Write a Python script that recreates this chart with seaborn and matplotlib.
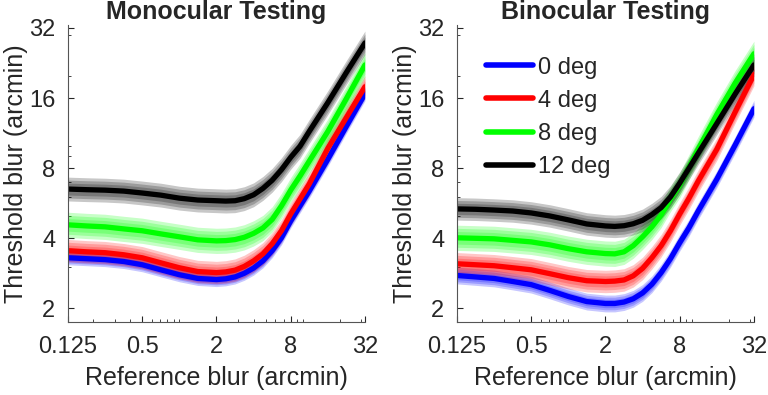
import numpy as np
import pandas as pd
import seaborn as sns
import matplotlib
matplotlib.use('Agg')
import matplotlib.pyplot as plt
from matplotlib.ticker import FixedLocator, LogLocator, NullFormatter

# reference blur (arcmin): half-octave steps, quarter-octave around the knee
ref_blur = [0.125, 0.177, 0.25, 0.354, 0.5, 0.707, 1, 1.41, 2, 2.38, 2.83, 3.36,
            4, 4.76, 5.66, 6.73, 8, 9.51, 11.3, 16, 22.6, 32]

# monocular thresholds (arcmin)
mono_0 = [3.30, 3.27, 3.24, 3.18, 3.08, 2.93, 2.79, 2.69, 2.66, 2.68, 2.73, 2.83,
          2.98, 3.20, 3.54, 4.02, 4.75, 5.51, 6.38, 8.74, 12.1, 16.7]
mono_4 = [3.54, 3.50, 3.47, 3.40, 3.30, 3.14, 2.99, 2.88, 2.85, 2.87, 2.92, 3.03,
          3.20, 3.43, 3.79, 4.31, 5.09, 5.90, 6.84, 9.74, 13.2, 17.9]
mono_8 = [4.57, 4.52, 4.48, 4.39, 4.31, 4.18, 4.06, 3.94, 3.90, 3.91, 3.95, 4.04,
          4.20, 4.43, 4.82, 5.51, 6.44, 7.40, 8.57, 11.5, 15.9, 22.2]
mono_12 = [6.51, 6.47, 6.44, 6.38, 6.26, 6.13, 5.95, 5.84, 5.80, 5.78, 5.80, 5.92,
           6.15, 6.55, 7.10, 7.88, 8.91, 9.93, 11.5, 15.3, 20.6, 27.6]

# binocular thresholds (arcmin)
bino_0 = [2.77, 2.73, 2.69, 2.61, 2.53, 2.39, 2.25, 2.14, 2.10, 2.10, 2.13, 2.20,
          2.33, 2.54, 2.85, 3.27, 3.83, 4.44, 5.24, 7.18, 10.1, 14.4]
bino_4 = [3.11, 3.08, 3.05, 2.99, 2.93, 2.82, 2.71, 2.63, 2.61, 2.62, 2.65, 2.76,
          2.97, 3.30, 3.72, 4.31, 5.09, 5.95, 7.04, 9.65, 14.0, 20.2]
bino_8 = [4.02, 4.00, 3.98, 3.92, 3.86, 3.75, 3.61, 3.50, 3.44, 3.43, 3.50, 3.72,
          4.06, 4.48, 5.04, 5.90, 6.77, 8.08, 9.65, 13.6, 18.6, 24.8]
bino_12 = [5.35, 5.33, 5.29, 5.24, 5.14, 4.99, 4.80, 4.61, 4.52, 4.50, 4.53, 4.62,
           4.78, 5.06, 5.42, 6.02, 6.90, 8.00, 9.27, 12.45, 16.7, 22.2]

# spread of the bootstrap curves (octaves, half width)
mono_spread = [0.10, 0.16, 0.18, 0.17]
bino_spread = [0.12, 0.16, 0.18, 0.16]

eccentricity = ['0 deg', '4 deg', '8 deg', '12 deg']
colors = ['#0000ff', '#ff0000', '#00ff00', '#000000']

sns.set_theme(style='white')
plt.rcParams['font.family'] = ['Liberation Sans', 'DejaVu Sans']

fig = plt.figure(figsize=(7.68, 3.95), dpi=100)
ax1 = fig.add_axes([0.0885, 0.185, 0.3867, 0.752])
ax2 = fig.add_axes([0.595, 0.185, 0.3867, 0.752])


def draw_panel(ax, curves, spreads, title):
    rows = []
    for lab, ys in zip(eccentricity, curves):
        for x, y in zip(ref_blur, ys):
            rows.append({'ref': x, 'thr': y, 'ecc': lab})
    df = pd.DataFrame(rows)

    # bands
    for ys, w, c in zip(curves, spreads, colors):
        ys = np.array(ys)
        for f in [1.0, 0.75, 0.5]:
            ax.fill_between(ref_blur, ys * 2 ** (-w * f), ys * 2 ** (w * f),
                            color=c, alpha=0.22, lw=0)
    sns.lineplot(data=df, x='ref', y='thr', hue='ecc', palette=colors,
                 hue_order=eccentricity, ax=ax, linewidth=3.8, legend=False,
                 solid_joinstyle='round')

    ax.set_xscale('log')
    ax.set_yscale('log')
    ax.set_xlim(0.125, 32)
    ax.set_ylim(1.75, 33)
    ax.xaxis.set_major_locator(FixedLocator([0.125, 0.5, 2, 8, 32]))
    ax.set_xticklabels(['0.125', '0.5', '2', '8', '32'])
    ax.yaxis.set_major_locator(FixedLocator([2, 4, 8, 16, 32]))
    ax.set_yticklabels(['2', '4', '8', '16', '32'])
    ax.xaxis.set_minor_locator(LogLocator(base=10, subs=range(1, 10)))
    ax.yaxis.set_minor_locator(LogLocator(base=10, subs=range(1, 10)))
    ax.xaxis.set_minor_formatter(NullFormatter())
    ax.yaxis.set_minor_formatter(NullFormatter())
    ax.tick_params(which='both', direction='in', labelsize=17, colors='#262626',
                   bottom=True, left=True)
    ax.tick_params(which='major', length=4, width=0.8)
    ax.tick_params(axis='x', which='major', pad=10)
    ax.tick_params(axis='y', which='major', pad=9)
    ax.tick_params(which='minor', length=2, width=0.6)
    for s in ['top', 'right']:
        ax.spines[s].set_visible(False)
    for s in ['left', 'bottom']:
        ax.spines[s].set_color('#555555')
        ax.spines[s].set_linewidth(0.8)
    ax.set_xlabel('Reference blur (arcmin)', fontsize=18, color='#262626', labelpad=6)
    ax.set_ylabel('Threshold blur (arcmin)', fontsize=18, color='#262626', labelpad=1)
    ax.set_title(title, fontsize=18, fontweight='bold', pad=4)


draw_panel(ax1, [mono_0, mono_4, mono_8, mono_12], mono_spread, 'Monocular Testing')
draw_panel(ax2, [bino_0, bino_4, bino_8, bino_12], bino_spread, 'Binocular Testing')

handles = [plt.Line2D([], [], color=c, lw=4) for c in colors]
ax2.legend(handles, eccentricity, loc='upper left', bbox_to_anchor=(0.065, 0.925),
           frameon=False, fontsize=17, handlelength=2.0, handletextpad=0.2,
           labelspacing=0.47, borderaxespad=0)

fig.savefig('out.png', dpi=100)
